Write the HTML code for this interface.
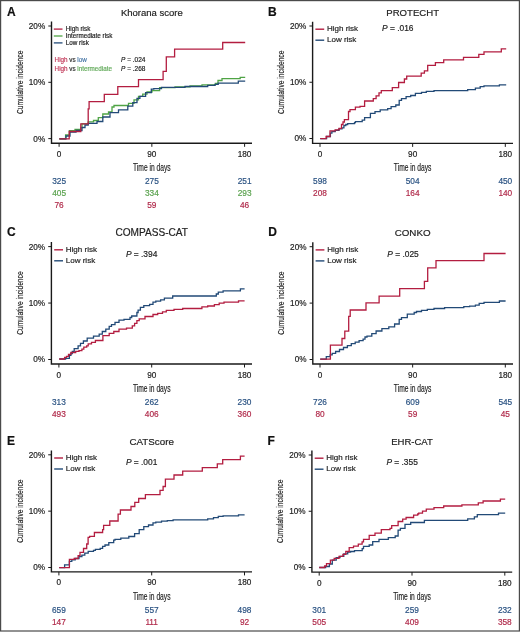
<!DOCTYPE html>
<html><head><meta charset="utf-8"><style>
html,body{margin:0;padding:0;background:#fff;}
body{width:520px;height:632px;overflow:hidden;}
svg{display:block;font-family:"Liberation Sans", sans-serif;will-change:transform;}
text{stroke-width:0.18px;}
</style></head><body>
<svg width="520" height="632" viewBox="0 0 520 632">

<path d="M51.5 21.5V143.3H252" fill="none" stroke="#1a1a1a" stroke-width="1.4"/>
<path d="M48.3 26H51.5" stroke="#1a1a1a" stroke-width="1"/>
<path d="M48.3 82.3H51.5" stroke="#1a1a1a" stroke-width="1"/>
<path d="M48.3 138.6H51.5" stroke="#1a1a1a" stroke-width="1"/>
<path d="M59.1 143.3V146.8" stroke="#1a1a1a" stroke-width="1"/>
<path d="M151.85 143.3V146.8" stroke="#1a1a1a" stroke-width="1"/>
<path d="M244.6 143.3V146.8" stroke="#1a1a1a" stroke-width="1"/>
<text x="45.2" y="28.9" font-size="8.2" text-anchor="end" fill="#222"  stroke="#222">20%</text>
<text x="45.2" y="85.2" font-size="8.2" text-anchor="end" fill="#222"  stroke="#222">10%</text>
<text x="45.2" y="141.5" font-size="8.2" text-anchor="end" fill="#222"  stroke="#222">0%</text>
<text x="59.1" y="156.8" font-size="8.2" text-anchor="middle" fill="#222"  stroke="#222">0</text>
<text x="151.85" y="156.8" font-size="8.2" text-anchor="middle" fill="#222"  stroke="#222">90</text>
<text x="244.6" y="156.8" font-size="8.2" text-anchor="middle" fill="#222"  stroke="#222">180</text>
<text transform="translate(22.6 82.3) rotate(-90) scale(0.68 1)" font-size="9.8" text-anchor="middle" fill="#222" stroke="#222" stroke-width="0.28">Cumulative incidence</text>
<text transform="translate(151.85 170.9) scale(0.65 1)" font-size="10.3" text-anchor="middle" fill="#222" stroke="#222" stroke-width="0.32">Time in days</text>
<text x="151.85" y="15.7" font-size="9.5" text-anchor="middle" fill="#222"  stroke="#222">Khorana score</text>
<text x="7.0" y="15.7" font-size="12" text-anchor="start" fill="#111" font-weight="bold" stroke="#111" stroke-width="0.45">A</text>
<text x="59.1" y="183.6" font-size="8.3" text-anchor="middle" fill="#2a5282"  stroke="#2a5282">325</text>
<text x="151.85" y="183.6" font-size="8.3" text-anchor="middle" fill="#2a5282"  stroke="#2a5282">275</text>
<text x="244.6" y="183.6" font-size="8.3" text-anchor="middle" fill="#2a5282"  stroke="#2a5282">251</text>
<text x="59.1" y="195.9" font-size="8.3" text-anchor="middle" fill="#5aa24e"  stroke="#5aa24e">405</text>
<text x="151.85" y="195.9" font-size="8.3" text-anchor="middle" fill="#5aa24e"  stroke="#5aa24e">334</text>
<text x="244.6" y="195.9" font-size="8.3" text-anchor="middle" fill="#5aa24e"  stroke="#5aa24e">293</text>
<text x="59.1" y="208.2" font-size="8.3" text-anchor="middle" fill="#b02a4a"  stroke="#b02a4a">76</text>
<text x="151.85" y="208.2" font-size="8.3" text-anchor="middle" fill="#b02a4a"  stroke="#b02a4a">59</text>
<text x="244.6" y="208.2" font-size="8.3" text-anchor="middle" fill="#b02a4a"  stroke="#b02a4a">46</text>
<path d="M59.3 138.8H65.6V135H69.4V130.6H75V129.5H81V127.7H82V123.8H88.2V121.9H93.5V120.5H98.3V117.6H102.8V114H108.5V112H112V107H114V105.5H128.5V103.4H134V99.8H138.5V96.3H142.7V94.1H147V92H152V90.6H159.6V87.7H175V86.8H190V85.8H202V84.8H215.4V83.5H218V80.5H222V78.6H240.2V77.4H245.2" fill="none" stroke="#4fa445" stroke-width="1.3" stroke-linejoin="miter"/>
<path d="M59.3 138.8H66V136H70V132H76V130.5H82V127.5H85V125H88.2V123.4H97V121.5H102.8V117H110V112.6H118.5V109.8H127.8V106.2H132.8V102.7H137V98.4H139.9V96.3H145.6V92.7H151.3V89.1H153.8V88.7H161.5V87.3H185V86.5H207.7V85.4H215V84.4H218.2V83.1H238.3V81.2H245.2" fill="none" stroke="#224a77" stroke-width="1.3" stroke-linejoin="miter"/>
<path d="M59.3 138.8H69.2V131.5H80.8V123.8H88.2V108.9H89.1V101.7H104.3V94.4H117.8V86.7H138.5V79.6H163.1V71.3H166.3V56.9H174.6V49.2H222.7V42.5H245.2" fill="none" stroke="#b31d40" stroke-width="1.3" stroke-linejoin="miter"/>
<path d="M53.8 29.1H62.5" stroke="#b31d40" stroke-width="1.3"/>
<text x="65.8" y="31.400000000000002" font-size="6.3" fill="#222" stroke="#222">High risk</text>
<path d="M53.8 36.0H62.5" stroke="#4fa445" stroke-width="1.3"/>
<text x="65.8" y="38.3" font-size="6.3" fill="#222" stroke="#222">Intermediate risk</text>
<path d="M53.8 42.9H62.5" stroke="#224a77" stroke-width="1.3"/>
<text x="65.8" y="45.199999999999996" font-size="6.3" fill="#222" stroke="#222">Low risk</text>
<text x="54.6" y="62" font-size="6.3"><tspan fill="#c23a5a" stroke="#c23a5a">High</tspan><tspan fill="#333" stroke="#333"> vs </tspan><tspan fill="#4a78a8" stroke="#4a78a8">low</tspan></text>
<text x="54.6" y="70.8" font-size="6.3"><tspan fill="#c23a5a" stroke="#c23a5a">High</tspan><tspan fill="#333" stroke="#333"> vs </tspan><tspan fill="#62aa5a" stroke="#62aa5a">intermediate</tspan></text>
<text x="121.0" y="62" font-size="6.5" fill="#222" stroke="#222"><tspan font-style="italic">P</tspan> = .024</text>
<text x="121.0" y="70.8" font-size="6.5" fill="#222" stroke="#222"><tspan font-style="italic">P</tspan> = .268</text>
<path d="M312.6 21.7V143.4H513" fill="none" stroke="#1a1a1a" stroke-width="1.4"/>
<path d="M309.40000000000003 26H312.6" stroke="#1a1a1a" stroke-width="1"/>
<path d="M309.40000000000003 82.25H312.6" stroke="#1a1a1a" stroke-width="1"/>
<path d="M309.40000000000003 138.5H312.6" stroke="#1a1a1a" stroke-width="1"/>
<path d="M320 143.4V146.9" stroke="#1a1a1a" stroke-width="1"/>
<path d="M412.65 143.4V146.9" stroke="#1a1a1a" stroke-width="1"/>
<path d="M505.3 143.4V146.9" stroke="#1a1a1a" stroke-width="1"/>
<text x="306.3" y="28.9" font-size="8.2" text-anchor="end" fill="#222"  stroke="#222">20%</text>
<text x="306.3" y="85.15" font-size="8.2" text-anchor="end" fill="#222"  stroke="#222">10%</text>
<text x="306.3" y="141.4" font-size="8.2" text-anchor="end" fill="#222"  stroke="#222">0%</text>
<text x="320" y="156.9" font-size="8.2" text-anchor="middle" fill="#222"  stroke="#222">0</text>
<text x="412.65" y="156.9" font-size="8.2" text-anchor="middle" fill="#222"  stroke="#222">90</text>
<text x="505.3" y="156.9" font-size="8.2" text-anchor="middle" fill="#222"  stroke="#222">180</text>
<text transform="translate(283.70000000000005 82.25) rotate(-90) scale(0.68 1)" font-size="9.8" text-anchor="middle" fill="#222" stroke="#222" stroke-width="0.28">Cumulative incidence</text>
<text transform="translate(412.65 171.0) scale(0.65 1)" font-size="10.3" text-anchor="middle" fill="#222" stroke="#222" stroke-width="0.32">Time in days</text>
<text x="412.65" y="15.7" font-size="9.6" text-anchor="middle" fill="#222"  stroke="#222">PROTECHT</text>
<text x="268.1" y="15.7" font-size="12" text-anchor="start" fill="#111" font-weight="bold" stroke="#111" stroke-width="0.45">B</text>
<text x="320" y="183.5" font-size="8.3" text-anchor="middle" fill="#2a5282"  stroke="#2a5282">598</text>
<text x="412.65" y="183.5" font-size="8.3" text-anchor="middle" fill="#2a5282"  stroke="#2a5282">504</text>
<text x="505.3" y="183.5" font-size="8.3" text-anchor="middle" fill="#2a5282"  stroke="#2a5282">450</text>
<text x="320" y="195.8" font-size="8.3" text-anchor="middle" fill="#b02a4a"  stroke="#b02a4a">208</text>
<text x="412.65" y="195.8" font-size="8.3" text-anchor="middle" fill="#b02a4a"  stroke="#b02a4a">164</text>
<text x="505.3" y="195.8" font-size="8.3" text-anchor="middle" fill="#b02a4a"  stroke="#b02a4a">140</text>
<path d="M320.2 138.7H326.6V136.5H330.4V133.2H331.9V131.7H335.2V130.3H339V128.8H342V127.9H343.9V125.5H345.8V124.5H347.7V123.6H354.5V122.6H355.4V121.6H362.2V120.2H364.6V117.7H370.4V113.3H375V111.7H380.2V109.8H387.7V108.7H391.1V106.7H395.8V105H399.2V100.4H401.5V98.6H406.1V96.7H410.7V95.5H415.4V93.4H421.5V92.3H426.3V91.3H434V90.6H467.7V89.6H475.4V88.1H480.2V86.7H484V85.8H499.4V84.8H506.2" fill="none" stroke="#224a77" stroke-width="1.3" stroke-linejoin="miter"/>
<path d="M320.2 138.7H326.1V136.5H330V130.8H335.2V129.8H339V128.4H341.5V124.5H343V122H344.4V119.7H348.5V111.5H350V109.6H355.4V107.2H360V106.4H364.6V101H373.3V98.6H376.1V95.8H379V92.9H381.3V90.6H392.3V87.7H398.6V82.5H404.4V79H406.7V76.2H421.2V73.1H424.4V70.8H427.7V65.4H435.4V62.7H443.7V59.8H463.5V57.3H478.8V54.4H484V51.9H501.3V48.8H506.2" fill="none" stroke="#b31d40" stroke-width="1.3" stroke-linejoin="miter"/>
<path d="M315.40000000000003 29.2H324.20000000000005" stroke="#b31d40" stroke-width="1.4"/>
<text x="327.00000000000006" y="31.4" font-size="8" fill="#222" stroke="#222">High risk</text>
<path d="M315.40000000000003 40.2H324.20000000000005" stroke="#224a77" stroke-width="1.4"/>
<text x="327.00000000000006" y="42.400000000000006" font-size="8" fill="#222" stroke="#222">Low risk</text>
<text x="382.1" y="30.8" font-size="8.4" fill="#222" stroke="#222"><tspan font-style="italic">P</tspan> = .016</text>
<path d="M51.4 242.1V364H252" fill="none" stroke="#1a1a1a" stroke-width="1.4"/>
<path d="M48.199999999999996 246.6H51.4" stroke="#1a1a1a" stroke-width="1"/>
<path d="M48.199999999999996 303.05H51.4" stroke="#1a1a1a" stroke-width="1"/>
<path d="M48.199999999999996 359.5H51.4" stroke="#1a1a1a" stroke-width="1"/>
<path d="M58.9 364V367.5" stroke="#1a1a1a" stroke-width="1"/>
<path d="M151.7 364V367.5" stroke="#1a1a1a" stroke-width="1"/>
<path d="M244.5 364V367.5" stroke="#1a1a1a" stroke-width="1"/>
<text x="45.1" y="249.5" font-size="8.2" text-anchor="end" fill="#222"  stroke="#222">20%</text>
<text x="45.1" y="305.95" font-size="8.2" text-anchor="end" fill="#222"  stroke="#222">10%</text>
<text x="45.1" y="362.4" font-size="8.2" text-anchor="end" fill="#222"  stroke="#222">0%</text>
<text x="58.9" y="377.5" font-size="8.2" text-anchor="middle" fill="#222"  stroke="#222">0</text>
<text x="151.7" y="377.5" font-size="8.2" text-anchor="middle" fill="#222"  stroke="#222">90</text>
<text x="244.5" y="377.5" font-size="8.2" text-anchor="middle" fill="#222"  stroke="#222">180</text>
<text transform="translate(22.5 303.05) rotate(-90) scale(0.68 1)" font-size="9.8" text-anchor="middle" fill="#222" stroke="#222" stroke-width="0.28">Cumulative incidence</text>
<text transform="translate(151.7 391.6) scale(0.65 1)" font-size="10.3" text-anchor="middle" fill="#222" stroke="#222" stroke-width="0.32">Time in days</text>
<text x="151.7" y="236.29999999999998" font-size="10.1" text-anchor="middle" fill="#222"  stroke="#222">COMPASS-CAT</text>
<text x="6.899999999999999" y="236.29999999999998" font-size="12" text-anchor="start" fill="#111" font-weight="bold" stroke="#111" stroke-width="0.45">C</text>
<text x="58.9" y="404.5" font-size="8.3" text-anchor="middle" fill="#2a5282"  stroke="#2a5282">313</text>
<text x="151.7" y="404.5" font-size="8.3" text-anchor="middle" fill="#2a5282"  stroke="#2a5282">262</text>
<text x="244.5" y="404.5" font-size="8.3" text-anchor="middle" fill="#2a5282"  stroke="#2a5282">230</text>
<text x="58.9" y="416.8" font-size="8.3" text-anchor="middle" fill="#b02a4a"  stroke="#b02a4a">493</text>
<text x="151.7" y="416.8" font-size="8.3" text-anchor="middle" fill="#b02a4a"  stroke="#b02a4a">406</text>
<text x="244.5" y="416.8" font-size="8.3" text-anchor="middle" fill="#b02a4a"  stroke="#b02a4a">360</text>
<path d="M59.2 359H65.6V358.3H69.4V355.4H70.9V353.5H72.3V351.5H74.2V348.7H78.1V345.8H80.5V343.4H83.4V341H87.2V338.1H93.5V336.2H99.2V334.2H102.3V331.5H105.8V329.2H109.2V326.3H111.5V324.6H115V322.3H119V320.2H124V319.3H130V317.5H131.7V316H136.9V312.5H138.1V310.2H140.4V307.3H143.8V305.6H149.6V304.4H153V302.1H155.8V301.2H160.6V299.8H164.4V298.2H172.7V296H216.3V294H218.3V292.1H223.1V290.8H240.4V288.8H244.6" fill="none" stroke="#224a77" stroke-width="1.3" stroke-linejoin="miter"/>
<path d="M59.2 359H64.6V357.3H66.5V356.3H68.5V354.4H70.9V352.5H75.7V351.3H79V350.6H81.9V349.1H83.8V347.2H86.7V345.8H88.2V343.8H91.5V342.4H95.4V340.5H102.9V335.6H109.2V333.3H113.8V331.5H119V329.2H126.5V328.1H132.3V325.8H134.6V323.4H136.9V320.6H139.2V318.8H145V316.5H153V314.5H157.7V313.4H162.5V311.9H166.3V310.4H174V309.4H182.7V308.5H201.9V306.9H207.7V306H214.4V304.6H219.2V303.1H224V302.1H238.5V300.8H244.6" fill="none" stroke="#b31d40" stroke-width="1.3" stroke-linejoin="miter"/>
<path d="M54.199999999999996 249.79999999999998H63.0" stroke="#b31d40" stroke-width="1.4"/>
<text x="65.8" y="251.99999999999997" font-size="8" fill="#222" stroke="#222">High risk</text>
<path d="M54.199999999999996 260.8H63.0" stroke="#224a77" stroke-width="1.4"/>
<text x="65.8" y="263.0" font-size="8" fill="#222" stroke="#222">Low risk</text>
<text x="125.9" y="256.8" font-size="8.4" fill="#222" stroke="#222"><tspan font-style="italic">P</tspan> = .394</text>
<path d="M312.8 242.3V364H513" fill="none" stroke="#1a1a1a" stroke-width="1.4"/>
<path d="M309.6 246.7H312.8" stroke="#1a1a1a" stroke-width="1"/>
<path d="M309.6 303.1H312.8" stroke="#1a1a1a" stroke-width="1"/>
<path d="M309.6 359.5H312.8" stroke="#1a1a1a" stroke-width="1"/>
<path d="M320 364V367.5" stroke="#1a1a1a" stroke-width="1"/>
<path d="M412.65 364V367.5" stroke="#1a1a1a" stroke-width="1"/>
<path d="M505.3 364V367.5" stroke="#1a1a1a" stroke-width="1"/>
<text x="306.5" y="249.6" font-size="8.2" text-anchor="end" fill="#222"  stroke="#222">20%</text>
<text x="306.5" y="306.0" font-size="8.2" text-anchor="end" fill="#222"  stroke="#222">10%</text>
<text x="306.5" y="362.4" font-size="8.2" text-anchor="end" fill="#222"  stroke="#222">0%</text>
<text x="320" y="377.5" font-size="8.2" text-anchor="middle" fill="#222"  stroke="#222">0</text>
<text x="412.65" y="377.5" font-size="8.2" text-anchor="middle" fill="#222"  stroke="#222">90</text>
<text x="505.3" y="377.5" font-size="8.2" text-anchor="middle" fill="#222"  stroke="#222">180</text>
<text transform="translate(283.90000000000003 303.1) rotate(-90) scale(0.68 1)" font-size="9.8" text-anchor="middle" fill="#222" stroke="#222" stroke-width="0.28">Cumulative incidence</text>
<text transform="translate(412.65 391.6) scale(0.65 1)" font-size="10.3" text-anchor="middle" fill="#222" stroke="#222" stroke-width="0.32">Time in days</text>
<text x="412.65" y="236.39999999999998" font-size="9.8" text-anchor="middle" fill="#222"  stroke="#222">CONKO</text>
<text x="268.3" y="236.39999999999998" font-size="12" text-anchor="start" fill="#111" font-weight="bold" stroke="#111" stroke-width="0.45">D</text>
<text x="320" y="404.5" font-size="8.3" text-anchor="middle" fill="#2a5282"  stroke="#2a5282">726</text>
<text x="412.65" y="404.5" font-size="8.3" text-anchor="middle" fill="#2a5282"  stroke="#2a5282">609</text>
<text x="505.3" y="404.5" font-size="8.3" text-anchor="middle" fill="#2a5282"  stroke="#2a5282">545</text>
<text x="320" y="416.8" font-size="8.3" text-anchor="middle" fill="#b02a4a"  stroke="#b02a4a">80</text>
<text x="412.65" y="416.8" font-size="8.3" text-anchor="middle" fill="#b02a4a"  stroke="#b02a4a">59</text>
<text x="505.3" y="416.8" font-size="8.3" text-anchor="middle" fill="#b02a4a"  stroke="#b02a4a">45</text>
<path d="M320.2 359.2H326.3V356.7H330.2V354.9H332.2V353.4H335.6V351.5H339.5V349.5H343.5V347.5H347.4V345.6H351.3V343.6H355.2V342.2H359.1V340.7H363.1V339.2H365V337H367V336.2H371.8V333.7H376.1V331H381.9V328.6H388.8V326.9H394.6V324H399.2V319.4H401.5V317.7H407.3V314.2H414.2V312.5H416.5V311.5H421.5V310.4H427.3V309.4H434V308.5H444.6V307.7H463.8V306.7H469.6V306.2H475.4V305.2H479.2V303.3H484V302.3H499.4V301H505.6" fill="none" stroke="#224a77" stroke-width="1.3" stroke-linejoin="miter"/>
<path d="M320.2 359.2H330.4V345.2H342V338.5H344.8V331.2H348.7V316.3H350.2V310H366V302.9H379.1V296.2H399.7V288.6H424.4V281.3H427.7V267.9H436V260.6H484V253.5H505.6" fill="none" stroke="#b31d40" stroke-width="1.3" stroke-linejoin="miter"/>
<path d="M315.6 249.89999999999998H324.40000000000003" stroke="#b31d40" stroke-width="1.4"/>
<text x="327.20000000000005" y="252.09999999999997" font-size="8" fill="#222" stroke="#222">High risk</text>
<path d="M315.6 260.9H324.40000000000003" stroke="#224a77" stroke-width="1.4"/>
<text x="327.20000000000005" y="263.09999999999997" font-size="8" fill="#222" stroke="#222">Low risk</text>
<text x="387.3" y="256.9" font-size="8.4" fill="#222" stroke="#222"><tspan font-style="italic">P</tspan> = .025</text>
<path d="M51.4 450.6V571.9H252" fill="none" stroke="#1a1a1a" stroke-width="1.4"/>
<path d="M48.199999999999996 454.8H51.4" stroke="#1a1a1a" stroke-width="1"/>
<path d="M48.199999999999996 511.15H51.4" stroke="#1a1a1a" stroke-width="1"/>
<path d="M48.199999999999996 567.5H51.4" stroke="#1a1a1a" stroke-width="1"/>
<path d="M58.9 571.9V575.4" stroke="#1a1a1a" stroke-width="1"/>
<path d="M151.7 571.9V575.4" stroke="#1a1a1a" stroke-width="1"/>
<path d="M244.5 571.9V575.4" stroke="#1a1a1a" stroke-width="1"/>
<text x="45.1" y="457.7" font-size="8.2" text-anchor="end" fill="#222"  stroke="#222">20%</text>
<text x="45.1" y="514.05" font-size="8.2" text-anchor="end" fill="#222"  stroke="#222">10%</text>
<text x="45.1" y="570.4" font-size="8.2" text-anchor="end" fill="#222"  stroke="#222">0%</text>
<text x="58.9" y="585.4" font-size="8.2" text-anchor="middle" fill="#222"  stroke="#222">0</text>
<text x="151.7" y="585.4" font-size="8.2" text-anchor="middle" fill="#222"  stroke="#222">90</text>
<text x="244.5" y="585.4" font-size="8.2" text-anchor="middle" fill="#222"  stroke="#222">180</text>
<text transform="translate(22.5 511.15) rotate(-90) scale(0.68 1)" font-size="9.8" text-anchor="middle" fill="#222" stroke="#222" stroke-width="0.28">Cumulative incidence</text>
<text transform="translate(151.7 599.5) scale(0.65 1)" font-size="10.3" text-anchor="middle" fill="#222" stroke="#222" stroke-width="0.32">Time in days</text>
<text x="151.7" y="444.5" font-size="9.8" text-anchor="middle" fill="#222"  stroke="#222">CATScore</text>
<text x="6.899999999999999" y="444.5" font-size="12" text-anchor="start" fill="#111" font-weight="bold" stroke="#111" stroke-width="0.45">E</text>
<text x="58.9" y="612.5" font-size="8.3" text-anchor="middle" fill="#2a5282"  stroke="#2a5282">659</text>
<text x="151.7" y="612.5" font-size="8.3" text-anchor="middle" fill="#2a5282"  stroke="#2a5282">557</text>
<text x="244.5" y="612.5" font-size="8.3" text-anchor="middle" fill="#2a5282"  stroke="#2a5282">498</text>
<text x="58.9" y="624.8" font-size="8.3" text-anchor="middle" fill="#b02a4a"  stroke="#b02a4a">147</text>
<text x="151.7" y="624.8" font-size="8.3" text-anchor="middle" fill="#b02a4a"  stroke="#b02a4a">111</text>
<text x="244.5" y="624.8" font-size="8.3" text-anchor="middle" fill="#b02a4a"  stroke="#b02a4a">92</text>
<path d="M59.2 567.7H64.6V564.9H69.4V561.3H71.8V559.9H75.2V558.5H79V556.5H81.9V555.1H84.8V553.2H88.2V551.3H93.5V550.3H95.4V549.3H100.2V548.4H102.6V546.4H105V545H108.8V542.7H113.7V540.2H115V539.4H120.8V538.2H128.8V536.5H134.6V533.6H139.2V529.6H143.8V526.7H148.5V525H153V522.9H155.8V522.1H161.5V521.2H167.3V520.6H173.1V519.8H207.7V518.8H213.5V517.7H218.3V516.3H223.1V515.8H238.5V514.8H244.6" fill="none" stroke="#224a77" stroke-width="1.3" stroke-linejoin="miter"/>
<path d="M59.2 567.7H69.4V559.4H74.2V558.5H78.1V555.6H80V552.3H83.5V548.5H86.7V544H88.1V537.3H89.6V536.3H94.4V532.5H102.6V529.6H103.6V525.4H109.8V521H118.1V514.2H120.4V510H131V506.5H134.8V502.3H138.7V498.5H145.4V494.6H160V490.4H163.1V486.5H165.4V479.2H174V475H182.7V471.2H202.3V467.7H217.3V463.8H222.7V459.6H240.4V456.2H244.6" fill="none" stroke="#b31d40" stroke-width="1.3" stroke-linejoin="miter"/>
<path d="M54.199999999999996 458.0H63.0" stroke="#b31d40" stroke-width="1.4"/>
<text x="65.8" y="460.2" font-size="8" fill="#222" stroke="#222">High risk</text>
<path d="M54.199999999999996 469.0H63.0" stroke="#224a77" stroke-width="1.4"/>
<text x="65.8" y="471.2" font-size="8" fill="#222" stroke="#222">Low risk</text>
<text x="125.9" y="465.0" font-size="8.4" fill="#222" stroke="#222"><tspan font-style="italic">P</tspan> = .001</text>
<path d="M311.9 450.6V572.1H512.2" fill="none" stroke="#1a1a1a" stroke-width="1.4"/>
<path d="M308.7 455H311.9" stroke="#1a1a1a" stroke-width="1"/>
<path d="M308.7 511.25H311.9" stroke="#1a1a1a" stroke-width="1"/>
<path d="M308.7 567.5H311.9" stroke="#1a1a1a" stroke-width="1"/>
<path d="M319.2 572.1V575.6" stroke="#1a1a1a" stroke-width="1"/>
<path d="M412.0 572.1V575.6" stroke="#1a1a1a" stroke-width="1"/>
<path d="M504.8 572.1V575.6" stroke="#1a1a1a" stroke-width="1"/>
<text x="305.59999999999997" y="457.9" font-size="8.2" text-anchor="end" fill="#222"  stroke="#222">20%</text>
<text x="305.59999999999997" y="514.15" font-size="8.2" text-anchor="end" fill="#222"  stroke="#222">10%</text>
<text x="305.59999999999997" y="570.4" font-size="8.2" text-anchor="end" fill="#222"  stroke="#222">0%</text>
<text x="319.2" y="585.6" font-size="8.2" text-anchor="middle" fill="#222"  stroke="#222">0</text>
<text x="412.0" y="585.6" font-size="8.2" text-anchor="middle" fill="#222"  stroke="#222">90</text>
<text x="504.8" y="585.6" font-size="8.2" text-anchor="middle" fill="#222"  stroke="#222">180</text>
<text transform="translate(283.0 511.25) rotate(-90) scale(0.68 1)" font-size="9.8" text-anchor="middle" fill="#222" stroke="#222" stroke-width="0.28">Cumulative incidence</text>
<text transform="translate(412.0 599.7) scale(0.65 1)" font-size="10.3" text-anchor="middle" fill="#222" stroke="#222" stroke-width="0.32">Time in days</text>
<text x="412.0" y="444.7" font-size="9.55" text-anchor="middle" fill="#222"  stroke="#222">EHR-CAT</text>
<text x="267.4" y="444.7" font-size="12" text-anchor="start" fill="#111" font-weight="bold" stroke="#111" stroke-width="0.45">F</text>
<text x="319.2" y="612.5" font-size="8.3" text-anchor="middle" fill="#2a5282"  stroke="#2a5282">301</text>
<text x="412.0" y="612.5" font-size="8.3" text-anchor="middle" fill="#2a5282"  stroke="#2a5282">259</text>
<text x="504.8" y="612.5" font-size="8.3" text-anchor="middle" fill="#2a5282"  stroke="#2a5282">232</text>
<text x="319.2" y="624.8" font-size="8.3" text-anchor="middle" fill="#b02a4a"  stroke="#b02a4a">505</text>
<text x="412.0" y="624.8" font-size="8.3" text-anchor="middle" fill="#b02a4a"  stroke="#b02a4a">409</text>
<text x="504.8" y="624.8" font-size="8.3" text-anchor="middle" fill="#b02a4a"  stroke="#b02a4a">358</text>
<path d="M319.2 567.5H325.6V566.5H329.4V564H332.3V560.2H336.2V557.7H340V556.3H343.8V553.8H347.7V552H350.6V551.5H354.5V550.6H362.2V548.7H363.5V546.3H369.2V545H372.7V541.7H379V539.4H388.3V537.7H395.2V536H398.1V530.2H400.4V528.4H405V524.4H410.7V522.5H424.4V520.4H467.7V518.8H474.4V516.9H477.3V514.6H498.5V513.1H505.2" fill="none" stroke="#224a77" stroke-width="1.3" stroke-linejoin="miter"/>
<path d="M319.2 567.5H324.6V566H326.5V563.7H330.4V560.2H334.2V558.3H339V556.3H342.9V554.4H345.8V551.5H349.2V547.7H353.5V546.2H358.3V544.2H362.1V541.9H363.5V539.4H369.2V535.4H375V533.1H381.3V529.6H390V528.4H391.7V525.6H398.1V521.5H402.7V519.2H406.1V517.5H413.6V515.2H417.7V514H418.7V513.1H422.5V511.2H426.3V509.2H434V507.7H443.7V506H461.9V504.8H478.3V502.9H483.1V501H500.4V499.2H505.2" fill="none" stroke="#b31d40" stroke-width="1.3" stroke-linejoin="miter"/>
<path d="M314.7 458.2H323.5" stroke="#b31d40" stroke-width="1.4"/>
<text x="326.3" y="460.4" font-size="8" fill="#222" stroke="#222">High risk</text>
<path d="M314.7 469.2H323.5" stroke="#224a77" stroke-width="1.4"/>
<text x="326.3" y="471.4" font-size="8" fill="#222" stroke="#222">Low risk</text>
<text x="386.4" y="465.2" font-size="8.4" fill="#222" stroke="#222"><tspan font-style="italic">P</tspan> = .355</text>
<rect x="0.6" y="0.6" width="518.8" height="630.4" fill="none" stroke="#4a4a4a" stroke-width="1.2"/>
</svg>
</body></html>
